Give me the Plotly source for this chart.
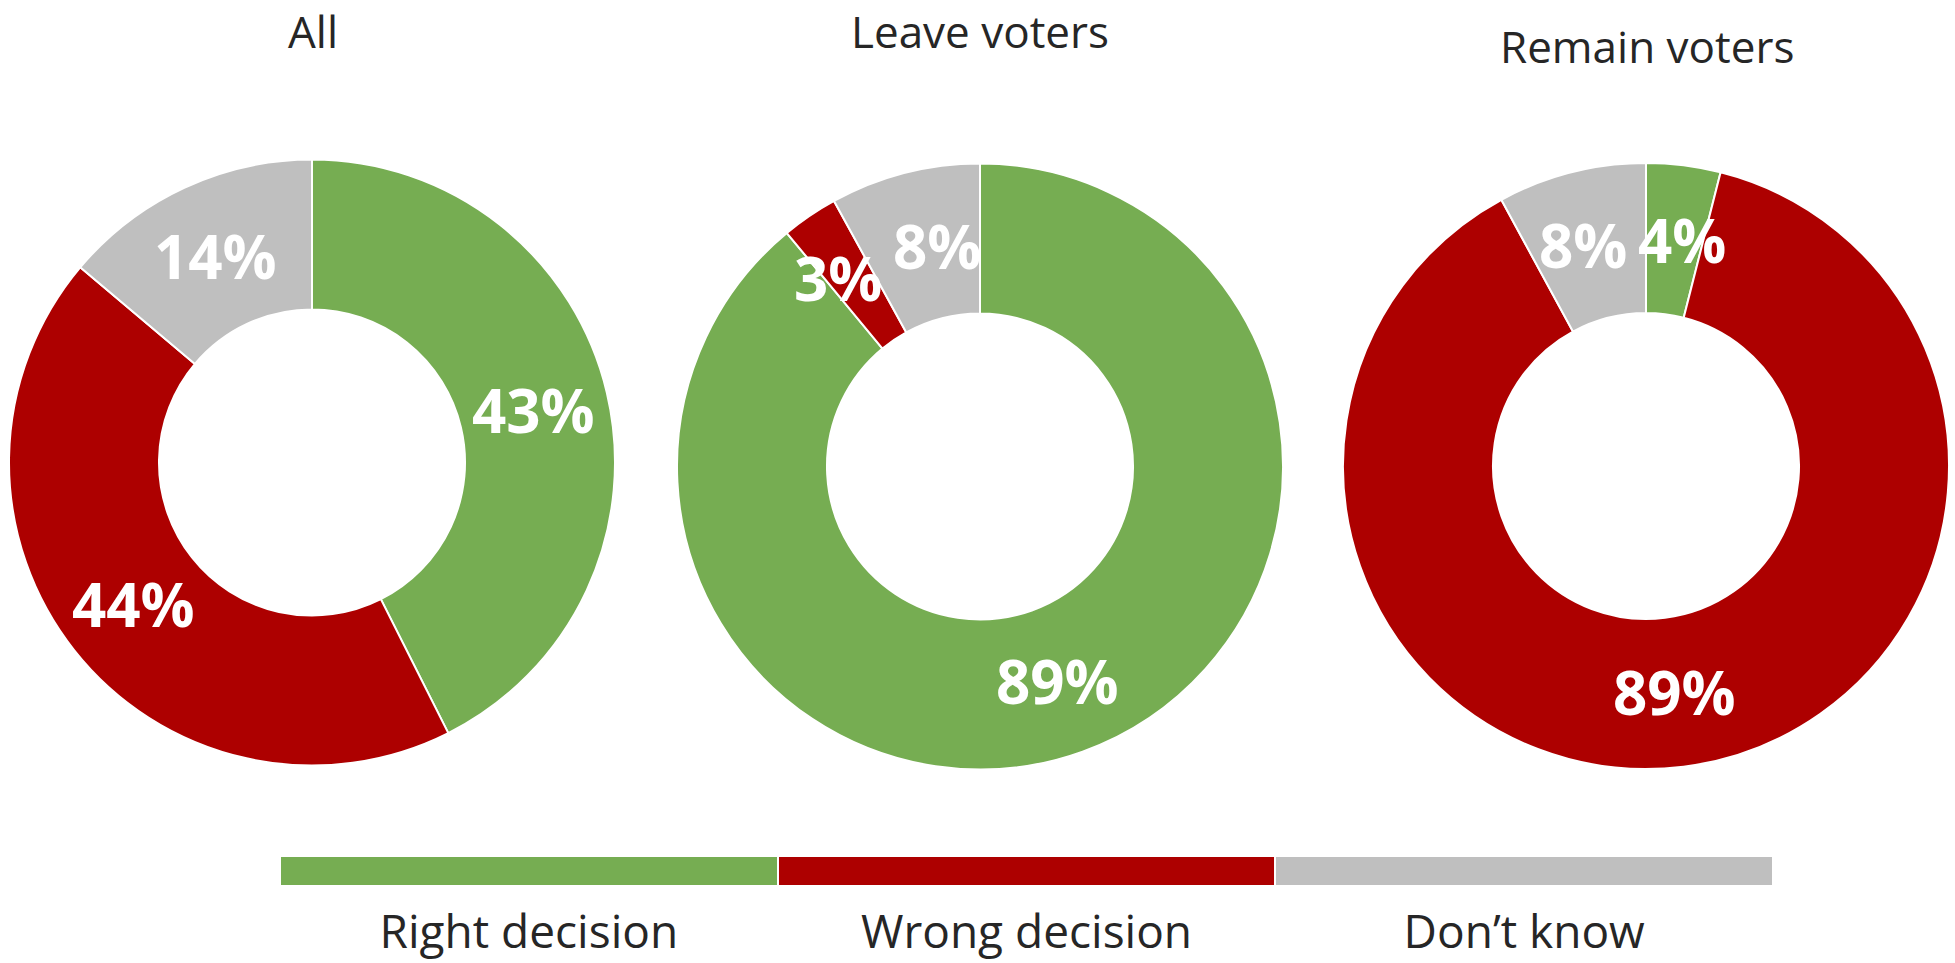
import math
import plotly.graph_objects as go

categories = ["Right decision", "Wrong decision", "Don’t know"]
groups = ["All", "Leave voters", "Remain voters"]
all_values = [43, 44, 14]
leave_values = [89, 3, 8]
remain_values = [4, 89, 8]
legend_values = [1, 1, 1]
colors = ["#76AD52", "#AD0000", "#BFBFBF"]

W, H = 1955, 963
HOLE = 0.505
LABEL_SIZE = 60


def px_dom_x(a, b):
    return [a / W, b / W]


def px_dom_y(top, bottom):
    return [1 - bottom / H, 1 - top / H]


def text_width(s, size):
    digits = sum(ch.isdigit() for ch in s)
    return size * (0.57 * digits + 0.88)


# pie boxes in pixels: (left, right, top, bottom)
pie_boxes = [
    (9, 615, 159, 766),
    (677, 1283, 163, 770),
    (1343, 1949, 163, 769),
]

fig = go.Figure()
annotations = []
for vals, (l, r, t, b) in zip([all_values, leave_values, remain_values], pie_boxes):
    fig.add_trace(go.Pie(
        values=vals,
        labels=categories,
        hole=HOLE,
        sort=False,
        direction="clockwise",
        rotation=0,
        marker=dict(colors=colors, line=dict(color="white", width=2)),
        textinfo="none",
        domain=dict(x=px_dom_x(l, r), y=px_dom_y(t, b)),
        showlegend=False,
        hoverinfo="label+value",
    ))
    # value labels at the middle of each ring segment
    cx, cy = (l + r) / 2, (t + b) / 2
    radius = min(r - l, b - t) / 2
    rmid = radius * (1 + HOLE) / 2
    total = sum(vals)
    cum = 0
    labels = []
    for v in vals:
        ang = 2 * math.pi * (cum + v / 2) / total
        cum += v
        txt = f"{v}%"
        labels.append([cx + rmid * math.sin(ang), cy - rmid * math.cos(ang),
                       txt, text_width(txt, LABEL_SIZE)])
    # push overlapping labels apart horizontally
    hgt = 0.75 * LABEL_SIZE
    pad = 12
    for i in range(len(labels)):
        for j in range(i + 1, len(labels)):
            a, c = labels[i], labels[j]
            if abs(a[1] - c[1]) < hgt:
                need = (a[3] + c[3]) / 2 + pad
                dx = c[0] - a[0]
                if abs(dx) < need:
                    shift = (need - abs(dx)) / 2
                    sgn = 1 if dx >= 0 else -1
                    a[0] -= sgn * shift
                    c[0] += sgn * shift
    for x, y, txt, _ in labels:
        annotations.append(dict(
            text=txt, x=x / W, y=1 - y / H, xref="paper", yref="paper",
            xanchor="center", yanchor="middle", showarrow=False,
            font=dict(family="Open Sans", size=LABEL_SIZE, color="white", weight="bold"),
        ))

fig.add_trace(go.Bar(
    x=categories,
    y=legend_values,
    width=1,
    marker=dict(color=colors, line=dict(color="white", width=2)),
    showlegend=False,
    hoverinfo="x",
    xaxis="x",
    yaxis="y",
))

title_pos = [(313, 31), (980, 31), (1647, 46)]
for g, (x, y) in zip(groups, title_pos):
    annotations.append(dict(
        text=g, x=x / W, y=1 - y / H, xref="paper", yref="paper",
        xanchor="center", yanchor="middle", showarrow=False,
        font=dict(family="Open Sans", size=44, color="#262626"),
    ))

fig.update_layout(
    width=W, height=H,
    margin=dict(l=0, r=0, t=0, b=0),
    paper_bgcolor="white",
    plot_bgcolor="white",
    bargap=0,
    annotations=annotations,
    xaxis=dict(
        domain=px_dom_x(280, 1773),
        anchor="y",
        showgrid=False, zeroline=False, showline=False,
        ticks="outside", ticklen=6, tickcolor="rgba(0,0,0,0)",
        tickfont=dict(family="Open Sans", size=46, color="#262626"),
        fixedrange=True,
    ),
    yaxis=dict(
        domain=px_dom_y(856, 886),
        range=[0, 1],
        visible=False,
        fixedrange=True,
    ),
)

fig.write_html(
    "out.html",
    config={"displayModeBar": False},
    post_script="document.body.style.margin='0';document.body.style.overflow='hidden';",
)
